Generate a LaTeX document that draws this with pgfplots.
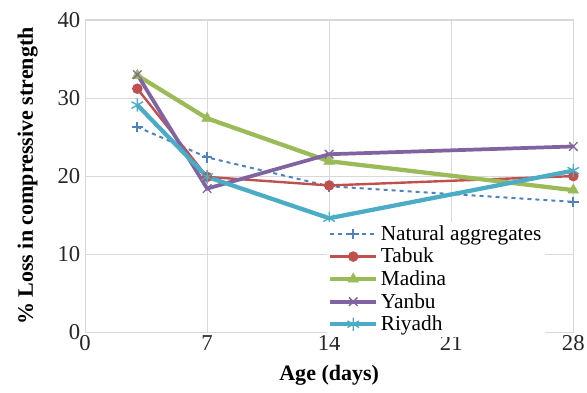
\documentclass[border=0pt]{standalone}
\usepackage{pgfplots}
\pgfplotsset{compat=1.18}
\usepackage{fontspec}
\setmainfont{Liberation Serif}
\definecolor{cNat}{HTML}{4F81BD}
\definecolor{cTab}{HTML}{C0504D}
\definecolor{cMad}{HTML}{9BBB59}
\definecolor{cYan}{HTML}{8064A2}
\definecolor{cRiy}{HTML}{4BACC6}
\definecolor{gridg}{HTML}{D9D9D9}
\begin{document}
\begin{tikzpicture}
\useasboundingbox (-63.75pt,-45pt) rectangle (376.25pt,249pt);
\begin{axis}[
  scale only axis, width=366pt, height=234pt,
  xmin=0, xmax=28, ymin=0, ymax=40,
  xtick={0,7,14,21,28}, ytick={0,10,20,30,40},
  grid=major, major grid style={gridg, line width=0.8pt},
  axis line style={gridg, line width=0.8pt},
  tick style={draw=none},
  /pgf/number format/assume math mode=true,
  ticklabel style={font=\fontsize{17}{18}\selectfont, text=black!85},
  xticklabel style={yshift=1pt},
  xlabel={\textbf{Age (days)}}, ylabel={\textbf{\% Loss in compressive strength}},
  label style={font=\fontsize{16.5}{18}\selectfont},
  xlabel style={yshift=-4pt},
  ylabel style={yshift=8pt},
  legend style={at={(0.495,0.355)}, anchor=north west, draw=none, fill=white,
    font=\fontsize{16}{17}\selectfont, row sep=0.3pt, inner sep=1pt},
  legend cell align=left,
  legend image code/.code={%
    \draw[mark repeat=2,mark phase=2] plot coordinates {(0cm,0cm) (0.6cm,0cm) (1.2cm,0cm)};},
]
\addplot[cNat, dashed, line width=1.5pt, mark=+, mark size=4pt, mark options={solid}]
  coordinates {(3,26.3) (7,22.4) (14,18.7) (28,16.7)};
\addlegendentry{Natural aggregates}
\addplot[cTab, line width=1.8pt, mark=*, mark size=3pt]
  coordinates {(3,31.2) (7,19.9) (14,18.8) (28,20.0)};
\addlegendentry{Tabuk}
\addplot[cMad, line width=3.2pt, mark=triangle*, mark size=4.5pt, mark options={line width=0.5pt}]
  coordinates {(3,32.9) (7,27.4) (14,21.9) (28,18.2)};
\addlegendentry{Madina}
\addplot[cYan, line width=2.8pt, mark=x, mark size=4.5pt, mark options={line width=1pt}]
  coordinates {(3,33.0) (7,18.4) (14,22.8) (28,23.8)};
\addlegendentry{Yanbu}
\addplot[cRiy, line width=3.2pt, mark=asterisk, mark size=5pt, mark options={line width=1pt}]
  coordinates {(3,29.1) (7,19.9) (14,14.6) (28,20.7)};
\addlegendentry{Riyadh}
\end{axis}
\end{tikzpicture}
\end{document}
